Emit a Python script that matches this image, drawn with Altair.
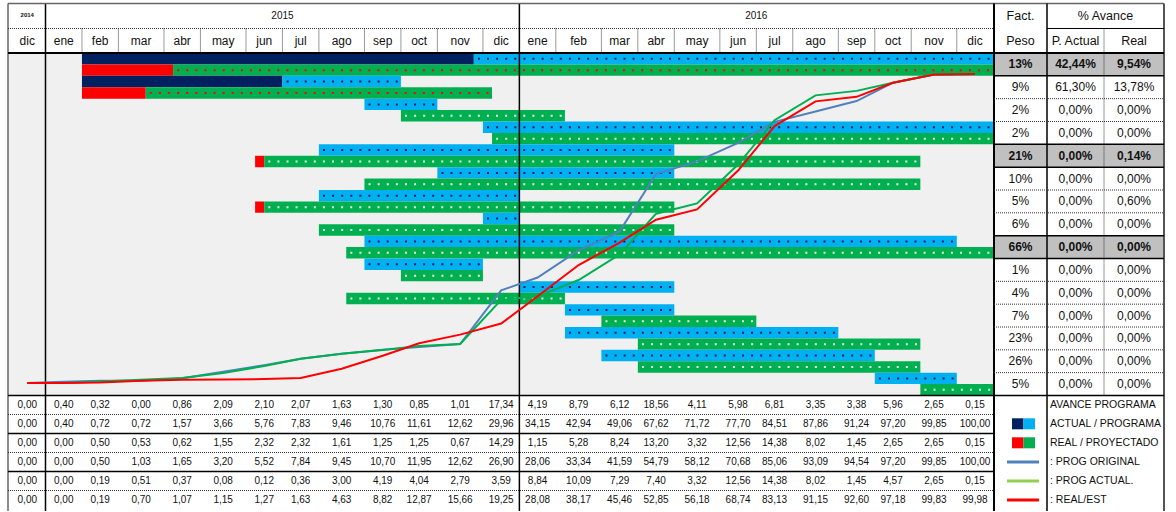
import altair as alt
import pandas as pd

# ---------------- calendar (weekly columns) ----------------
month_labels = ["ene", "feb", "mar", "abr", "may", "jun", "jul", "ago", "sep", "oct", "nov", "dic"]
weeks_2015 = [4, 4, 5, 4, 5, 4, 4, 5, 4, 4, 5, 4]
weeks_2016 = [4, 5, 4, 4, 5, 4, 4, 5, 4, 4, 5, 4]
dic2014_weeks = 4
year_labels = ["2014", "2015", "2016"]

# ---------------- Gantt segments (weeks from 1 Jan 2015) ----------------
seg_task = [0, 0, 0, 0, 1, 1, 1, 1, 2, 2, 3, 3, 4, 4, 4, 5, 5, 6, 6, 6, 7, 7,
            8, 8, 9, 9, 10, 10, 11, 11, 12, 12, 13, 13, 14, 14]
seg_lane = [0, 0, 1, 1, 0, 0, 1, 1, 0, 1, 0, 1, 0, 1, 1, 0, 1, 0, 1, 1, 0, 1,
            0, 1, 0, 1, 0, 1, 0, 1, 0, 1, 0, 1, 0, 1]
seg_start = [4, 47, 4, 14, 4, 26, 4, 11, 35, 39, 48, 49, 30, 23, 24, 43, 35, 30, 23, 24, 48, 30,
             35, 33, 35, 39, 52, 33, 57, 61, 57, 65, 61, 65, 91, 96]
seg_end = [47, 104, 14, 104, 26, 39, 11, 49, 43, 57, 104, 104, 69, 24, 96, 69, 96, 52, 24, 69, 52, 69,
           100, 104, 48, 48, 69, 57, 69, 78, 87, 96, 91, 96, 100, 104]
seg_kind = ["actual", "programa", "real", "proy_r", "actual", "programa", "real", "proy_r",
            "programa", "proy", "programa", "proy", "programa", "real", "proy", "programa", "proy",
            "programa", "real", "proy", "programa", "proy", "programa", "proy", "programa", "proy",
            "programa", "proy", "programa", "proy", "programa", "proy", "programa", "proy",
            "programa", "proy"]

# ---------------- right table ----------------
fact_peso = ["13%", "9%", "2%", "2%", "21%", "10%", "5%", "6%", "66%", "1%", "4%", "7%", "23%", "26%", "5%"]
p_actual = ["42,44%", "61,30%", "0,00%", "0,00%", "0,00%", "0,00%", "0,00%", "0,00%", "0,00%",
            "0,00%", "0,00%", "0,00%", "0,00%", "0,00%", "0,00%"]
real_pct = ["9,54%", "13,78%", "0,00%", "0,00%", "0,14%", "0,00%", "0,60%", "0,00%", "0,00%",
            "0,00%", "0,00%", "0,00%", "0,00%", "0,00%", "0,00%"]
summary_tasks = [0, 4, 8]

# ---------------- bottom table ----------------
avance_programa = [0.00, 0.40, 0.32, 0.00, 0.86, 2.09, 2.10, 2.07, 1.63, 1.30, 0.85, 1.01, 17.34,
                   4.19, 8.79, 6.12, 18.56, 4.11, 5.98, 6.81, 3.35, 3.38, 5.96, 2.65, 0.15]
acum_programa = [0.00, 0.40, 0.72, 0.72, 1.57, 3.66, 5.76, 7.83, 9.46, 10.76, 11.61, 12.62, 29.96,
                 34.15, 42.94, 49.06, 67.62, 71.72, 77.70, 84.51, 87.86, 91.24, 97.20, 99.85, 100.00]
avance_actual = [0.00, 0.00, 0.50, 0.53, 0.62, 1.55, 2.32, 2.32, 1.61, 1.25, 1.25, 0.67, 14.29,
                 1.15, 5.28, 8.24, 13.20, 3.32, 12.56, 14.38, 8.02, 1.45, 2.65, 2.65, 0.15]
acum_actual = [0.00, 0.00, 0.50, 1.03, 1.65, 3.20, 5.52, 7.84, 9.45, 10.70, 11.95, 12.62, 26.90,
               28.06, 33.34, 41.59, 54.79, 58.12, 70.68, 85.06, 93.09, 94.54, 97.20, 99.85, 100.00]
avance_real = [0.00, 0.00, 0.19, 0.51, 0.37, 0.08, 0.12, 0.36, 3.00, 4.19, 4.04, 2.79, 3.59,
               8.84, 10.09, 7.29, 7.40, 3.32, 12.56, 14.38, 8.02, 1.45, 4.57, 2.65, 0.15]
acum_real = [0.00, 0.00, 0.19, 0.70, 1.07, 1.15, 1.27, 1.63, 4.63, 8.82, 12.87, 15.66, 19.25,
             28.08, 38.17, 45.46, 52.85, 56.18, 68.74, 83.13, 91.15, 92.60, 97.18, 99.83, 99.98]
legend_labels = ["AVANCE PROGRAMA", "ACTUAL / PROGRAMA", "REAL / PROYECTADO",
                 ": PROG ORIGINAL", ": PROG ACTUAL.", ": REAL/EST"]

# ---------------- styles ----------------
FONT = "Liberation Sans, Arial, sans-serif"
NARROW = "Liberation Sans Narrow, Liberation Sans, Arial, sans-serif"
kind_fill = {"actual": "#002060", "programa": "#00b0f0", "real": "#ff0000",
             "proy_r": "#00b050", "proy": "#00b050"}
kind_dot = {"programa": "#002060", "proy_r": "#ff0000", "proy": "#e8f6e8"}
C_BLUE, C_GREEN, C_RED = "#4f81bd", "#00b050", "#ff0000"

# layout (pixels)
T_COL = [994, 1047, 1104, 1164]  # right table column edges

XS = alt.Scale(domain=[-4, 104], range=[9.05, 993.25], nice=False, zero=False)
HDR = alt.Scale(domain=[0, 2], range=[4, 53], nice=False, zero=False)
LANE = alt.Scale(domain=[0, 30], range=[53, 395.5], nice=False, zero=False)
TASK = alt.Scale(domain=[0, 15], range=[53, 395.5], nice=False, zero=False)
VAL = alt.Scale(domain=[0, 100], range=[383, 74], nice=False, zero=False)
BOT = alt.Scale(domain=[0, 6], range=[395.5, 509.5], nice=False, zero=False)


def qx(f, s):
    return alt.X(f"{f}:Q", scale=s, axis=None)


def qy(f, s):
    return alt.Y(f"{f}:Q", scale=s, axis=None)


# ---------------- derived tables ----------------
cal_label, cal_start, cal_end = ["dic"], [-dic2014_weeks], [0]
w = 0
for lab, n in zip(month_labels * 2, weeks_2015 + weeks_2016):
    cal_label.append(lab)
    cal_start.append(w)
    cal_end.append(w + n)
    w += n
cal = pd.DataFrame({"label": cal_label, "start": cal_start, "end": cal_end})
cal["mid"] = (cal["start"] + cal["end"]) / 2
cal["row"] = 1.5

years = pd.DataFrame({"label": year_labels,
                      "mid": [-dic2014_weeks / 2, sum(weeks_2015) / 2, sum(weeks_2015) + sum(weeks_2016) / 2],
                      "row": [0.45, 0.5, 0.5]})

segs = pd.DataFrame({"task": seg_task, "lane": seg_lane, "start": seg_start, "end": seg_end, "kind": seg_kind})
segs["y"] = segs["task"] * 2 + segs["lane"]
segs["y2"] = segs["y"] + 1
segs["ym"] = segs["y"] + 0.5
segs["fill"] = segs["kind"].map(kind_fill)
segs["dot"] = segs["kind"].map(kind_dot)
dots = segs.dropna(subset=["dot"])

tasks = pd.DataFrame({"t": list(range(15))})
tasks["t2"] = tasks["t"] + 1
tasks["tm"] = tasks["t"] + 0.5
tasks["fill"] = ["#c0c0c0" if t in summary_tasks else "#ffffff" for t in tasks["t"]]
tasks["peso"] = fact_peso
tasks["actual"] = p_actual
tasks["real"] = real_pct
tasks["bold"] = [t in summary_tasks for t in tasks["t"]]

bottom_rows = [avance_programa, acum_programa, avance_actual, acum_actual, avance_real, acum_real]
brec = []
for r, vals in enumerate(bottom_rows):
    for c, v in enumerate(vals):
        brec.append({"r": r + 0.5, "mid": cal["mid"][c], "txt": f"{v:.2f}".replace(".", ",")})
bottom = pd.DataFrame(brec)

lines = []
for name, vals, col in [("orig", acum_programa, C_BLUE), ("act", acum_actual, C_GREEN), ("real", acum_real, C_RED)]:
    lines.append(pd.DataFrame({"mid": cal["mid"], "v": vals, "s": name, "c": col}))

# ---------------- layers ----------------
layers = []

# backgrounds
layers.append(alt.Chart(pd.DataFrame({"x": [-4.1], "x2": [104], "y": [0], "y2": [30]})).mark_rect(color="#f0f0f0").encode(
    x=qx("x", XS), x2=alt.X2("x2"), y=qy("y", LANE), y2=alt.Y2("y2")))
layers.append(alt.Chart(tasks).mark_rect().encode(
    x=alt.value(T_COL[0]), x2=alt.value(T_COL[3]), y=qy("t", TASK), y2=alt.Y2("t2"),
    color=alt.Color("fill:N", scale=None)))

# gantt bars and dot patterns
layers.append(alt.Chart(segs).mark_rect().encode(
    x=qx("start", XS), x2=alt.X2("end"), y=qy("y", LANE), y2=alt.Y2("y2"),
    color=alt.Color("fill:N", scale=None)))
layers.append(alt.Chart(dots).mark_rule(strokeDash=[2, 7.1], strokeWidth=2, strokeDashOffset=5.0).encode(
    x=qx("start", XS), x2=alt.X2("end"), y=qy("ym", LANE),
    color=alt.Color("dot:N", scale=None)))

# grid: solid verticals at year starts
layers.append(alt.Chart(pd.DataFrame({"w": [0, 52]})).mark_rule(color="#000", strokeWidth=1.5).encode(
    x=qx("w", XS), y=alt.value(3.5), y2=alt.value(511)))
# dotted month dividers in header
mdiv = pd.DataFrame({"w": [s for s in cal["start"] if s not in (-4, 0, 52)]})
layers.append(alt.Chart(mdiv).mark_rule(color="#333", strokeWidth=1, strokeDash=[1, 1]).encode(
    x=qx("w", XS), y=alt.value(28.5), y2=alt.value(53)))

# frame lines (layout)
frame_solid = pd.DataFrame([
    (8, 1164, 3.5, 3.5, 1.5, "#666"),
    (8, 8, 3.5, 511, 1.5, "#666"),
    (1164, 1164, 3.5, 511, 2, "#555"),
    (8, 1164, 53, 53, 2, "#000"),
    (8, 1164, 395.5, 395.5, 1.5, "#000"),
    (T_COL[0], T_COL[0], 3.5, 511, 2, "#000"),
    (T_COL[1], T_COL[1], 3.5, 511, 1.5, "#000"),
    (T_COL[1], 1164, 28.5, 28.5, 1, "#000"),
], columns=["x", "x2", "y", "y2", "w", "c"])
layers.append(alt.Chart(frame_solid).mark_rule().encode(
    x=qx("x", None), x2=alt.X2("x2"), y=qy("y", None), y2=alt.Y2("y2"),
    strokeWidth=alt.StrokeWidth("w:Q", scale=None), color=alt.Color("c:N", scale=None)))
frame_dot = pd.DataFrame([
    (8, T_COL[0], 28.5, 28.5),
    (T_COL[2], T_COL[2], 28.5, 395.5),
], columns=["x", "x2", "y", "y2"])
layers.append(alt.Chart(frame_dot).mark_rule(color="#333", strokeWidth=1, strokeDash=[1, 1]).encode(
    x=qx("x", None), x2=alt.X2("x2"), y=qy("y", None), y2=alt.Y2("y2")))

# right table row separators
rsep = pd.DataFrame({"k": list(range(1, 15))})
rsep["solid"] = rsep["k"].isin([1, 4, 5, 8, 9])
layers.append(alt.Chart(rsep[~rsep["solid"]]).mark_rule(color="#333", strokeWidth=1, strokeDash=[1, 1]).encode(
    x=alt.value(T_COL[0]), x2=alt.value(T_COL[3]), y=qy("k", TASK)))
layers.append(alt.Chart(rsep[rsep["solid"]]).mark_rule(color="#000", strokeWidth=1.5).encode(
    x=alt.value(T_COL[0]), x2=alt.value(T_COL[3]), y=qy("k", TASK)))

# bottom table row separators
bsep = pd.DataFrame({"k": [1, 2, 3, 4, 5]})
bsep["solid"] = bsep["k"].isin([2, 4])
layers.append(alt.Chart(bsep[~bsep["solid"]]).mark_rule(color="#333", strokeWidth=1, strokeDash=[1, 1]).encode(
    x=alt.value(8), x2=alt.value(T_COL[0]), y=qy("k", BOT)))
layers.append(alt.Chart(bsep[bsep["solid"]]).mark_rule(color="#000", strokeWidth=1.5).encode(
    x=alt.value(8), x2=alt.value(T_COL[0]), y=qy("k", BOT)))

# S-curves
for df in lines:
    layers.append(alt.Chart(df).mark_line(strokeWidth=2).encode(
        x=qx("mid", XS), y=qy("v", VAL), color=alt.Color("c:N", scale=None)))

# header text
layers.append(alt.Chart(cal).mark_text(font=FONT, fontSize=12, baseline="middle", color="#111").encode(
    x=qx("mid", XS), y=qy("row", HDR), text="label:N"))
layers.append(alt.Chart(years.iloc[1:]).mark_text(font=FONT, fontSize=10, baseline="middle", color="#111").encode(
    x=qx("mid", XS), y=qy("row", HDR), text="label:N"))
layers.append(alt.Chart(years.iloc[:1]).mark_text(font=FONT, fontSize=6, fontWeight="bold", baseline="middle", color="#111").encode(
    x=qx("mid", XS), y=qy("row", HDR), text="label:N"))

rhead = pd.DataFrame({
    "txt": ["Fact.", "Peso", "% Avance", "P. Actual", "Real"],
    "x": [(T_COL[0] + T_COL[1]) / 2, (T_COL[0] + T_COL[1]) / 2, (T_COL[1] + T_COL[3]) / 2,
          (T_COL[1] + T_COL[2]) / 2, (T_COL[2] + T_COL[3]) / 2],
    "row": [0.5, 1.5, 0.5, 1.5, 1.5]})
layers.append(alt.Chart(rhead).mark_text(font=FONT, fontSize=12.5, baseline="middle", color="#111").encode(
    x=qx("x", None), y=qy("row", HDR), text="txt:N"))

# right table values
for field, ci in [("peso", 0), ("actual", 1), ("real", 2)]:
    cx = (T_COL[ci] + T_COL[ci + 1]) / 2
    layers.append(alt.Chart(tasks[~tasks["bold"]]).mark_text(font=FONT, fontSize=12, baseline="middle", color="#111").encode(
        x=alt.value(cx), y=qy("tm", TASK), text=f"{field}:N"))
    layers.append(alt.Chart(tasks[tasks["bold"]]).mark_text(font=FONT, fontSize=12, fontWeight="bold", baseline="middle", color="#111").encode(
        x=alt.value(cx), y=qy("tm", TASK), text=f"{field}:N"))

# bottom table values
layers.append(alt.Chart(bottom).mark_text(font=NARROW, fontSize=10, baseline="middle", color="#111").encode(
    x=qx("mid", XS), y=qy("r", BOT), text="txt:N"))

# legend
leg = pd.DataFrame({"r": [i + 0.5 for i in range(6)], "txt": legend_labels})
layers.append(alt.Chart(leg).mark_text(font=FONT, fontSize=10.5, baseline="middle", align="left", color="#111").encode(
    x=alt.value(T_COL[1] + 3), y=qy("r", BOT), text="txt:N"))
sw = pd.DataFrame({"x": [1012, 1023.5, 1012, 1023.5], "x2": [1023.5, 1035, 1023.5, 1035],
                   "y": [1.2, 1.2, 2.2, 2.2], "y2": [1.78, 1.78, 2.78, 2.78],
                   "c": ["#002060", "#00b0f0", "#ff0000", "#00b050"]})
layers.append(alt.Chart(sw).mark_rect().encode(
    x=qx("x", None), x2=alt.X2("x2"), y=qy("y", BOT), y2=alt.Y2("y2"), color=alt.Color("c:N", scale=None)))
lsw = pd.DataFrame({"r": [3.5, 4.5, 5.5], "c": [C_BLUE, "#92d050", C_RED]})
layers.append(alt.Chart(lsw).mark_rule(strokeWidth=3).encode(
    x=alt.value(1007), x2=alt.value(1039), y=qy("r", BOT), color=alt.Color("c:N", scale=None)))

chart = alt.layer(*layers).resolve_scale(x="independent", y="independent").properties(
    width=1176, height=512, padding=0, autosize=alt.AutoSizeParams(type="none"), background="white"
).configure_view(strokeWidth=0)

chart.save("out.html", embed_options={"renderer": "svg", "actions": False})
